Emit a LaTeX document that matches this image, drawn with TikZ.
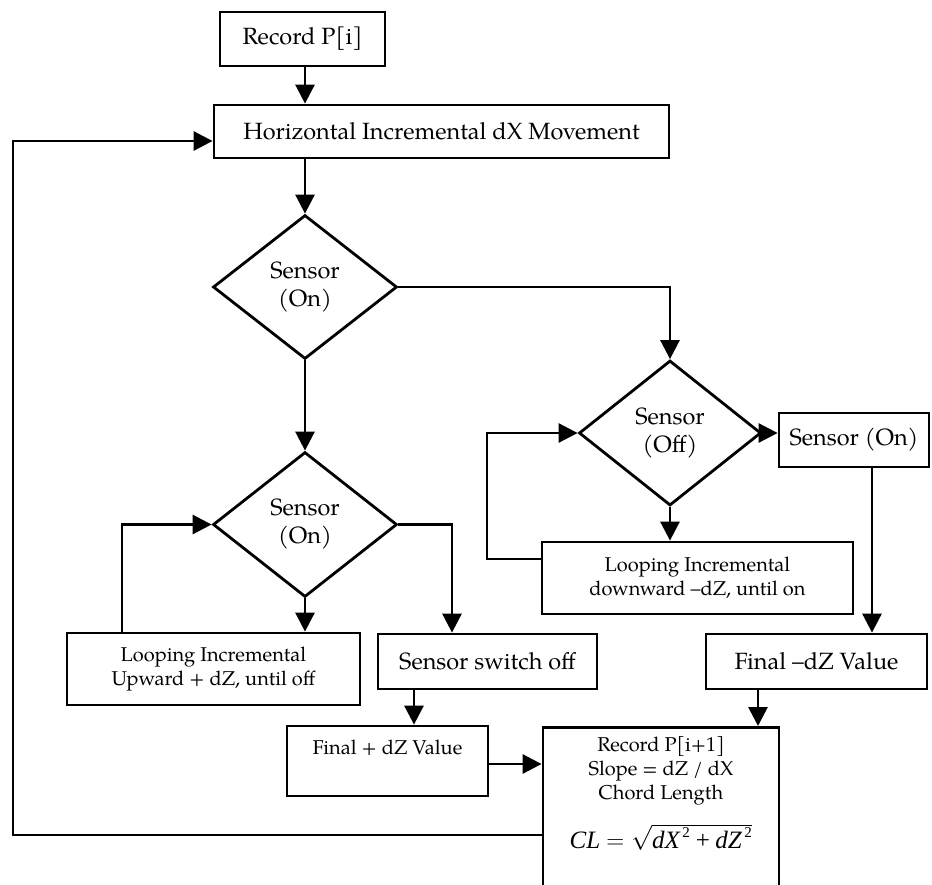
\documentclass[tikz,border=0pt]{standalone}
\usepackage{fontspec}
\setmainfont{TeX Gyre Pagella}
\newfontfamily\tnr{Liberation Serif}
\usetikzlibrary{arrows.meta,shapes.geometric}
\newcommand{\supsq}{\hbox{\tnr\fontsize{15}{17}\selectfont\,2}}
\begin{document}
\begin{tikzpicture}[x=1pt,y=-1pt,
  box/.style={draw, line width=2.8pt, rectangle, inner sep=0pt, align=center},
  dia/.style={draw, line width=2.8pt, diamond, inner sep=0pt, align=center},
  con/.style={line width=2.8pt, -{Triangle[length=19pt,width=19pt]}},
  txt/.style={inner sep=0pt, align=center},
  big/.style={font=\fontsize{23.5}{28}\selectfont},
  small/.style={font=\fontsize{20}{24}\selectfont}]
\useasboundingbox (0,0) rectangle (932,884);
\clip (0,0) rectangle (932,884);
% nodes
\node[box,big,minimum width=165,minimum height=54] (rec) at (302.5,39) {Record P[i]};
\node[box,big,minimum width=455,minimum height=53] (hor) at (441.5,131.5) {Horizontal Incremental dX Movement};
\node[dia,big,minimum width=184,minimum height=144] (d1) at (305,287) {Sensor\\(On)};
\node[dia,big,minimum width=184,minimum height=145] (d2) at (305,524.5) {Sensor\\(On)};
\node[dia,big,minimum width=182,minimum height=145] (d3) at (670,433) {Sensor\\(Off)};
\node[box,big,minimum width=150,minimum height=54] (son) at (854,440) {Sensor (On)};
\node[box,small,minimum width=311,minimum height=72] (ldown) at (697.5,578) {Looping Incremental\\downward –dZ, until on};
\node[box,small,minimum width=293,minimum height=72] (lup) at (213.5,669) {Looping Incremental\\Upward + dZ, until off};
\node[box,big,minimum width=219,minimum height=55] (soff) at (487.5,661.5) {Sensor switch off};
\node[box,big,minimum width=221,minimum height=55] (fmz) at (816.5,661.5) {Final –dZ Value};
\node[box,minimum width=201,minimum height=70] (fpz) at (387.5,761) {};
\node[txt,small] (fpzt) at (387.5,748) {Final + dZ Value};
\node[box,minimum width=236,minimum height=200,anchor=north] (cl) at (661,726) {};
\node[txt,font=\fontsize{20}{24}\selectfont,anchor=north] (clt) at (661,736) {Record P[i+1]\\Slope = dZ / dX\\Chord Length};
\node[txt,font=\fontsize{25}{30}\selectfont] (clf) at (661,837) {{\tnr\itshape CL} $=\sqrt{\hbox{\tnr\itshape dX}^{\supsq}\mathbin{\hbox{\tnr +}}\hbox{\tnr\itshape dZ}^{\supsq}}$};
% coordinates
\coordinate (lloop) at (122,524.5);
\coordinate (rloop) at (487,433);
\coordinate (bl) at (13,835);
% connectors
\draw[con] (rec.south -| d1.north) -- (hor.north -| d1.north);
\draw[con] (hor.south -| d1.north) -- (d1.north);
\draw[con] (d1.south) -- (d2.north);
\draw[con] (d1.east) -| (d3.north);
\draw[con] (d2.south) -- (d2.south |- lup.north);
\draw[con] (lloop |- lup.north) -- (lloop) -- (d2.west);
\draw[con] (d2.east) -| ([xshift=-35.5]soff.north);
\draw[con] ([xshift=-73.5]soff.south) -- ([xshift=-73.5]soff.south |- fpz.north);
\draw[con] ([yshift=-3]fpz.east) -- ([yshift=-3]fpz.east -| cl.west);
\draw[con] (d3.east) -- (d3.east -| son.west);
\draw[con] (d3.south) -- (d3.south |- ldown.north);
\draw[con] ([yshift=19]ldown.west) -| (rloop) -- (d3.west);
\draw[con] ([xshift=18]son.south) -- ([xshift=18]son.south |- fmz.north);
\draw[con] ([xshift=-58.5]fmz.south) -- ([xshift=-58.5]fmz.south |- cl.north);
\draw[con] (cl.west |- bl) -- (bl) |- ([yshift=-9.5]hor.west);
\end{tikzpicture}
\end{document}
